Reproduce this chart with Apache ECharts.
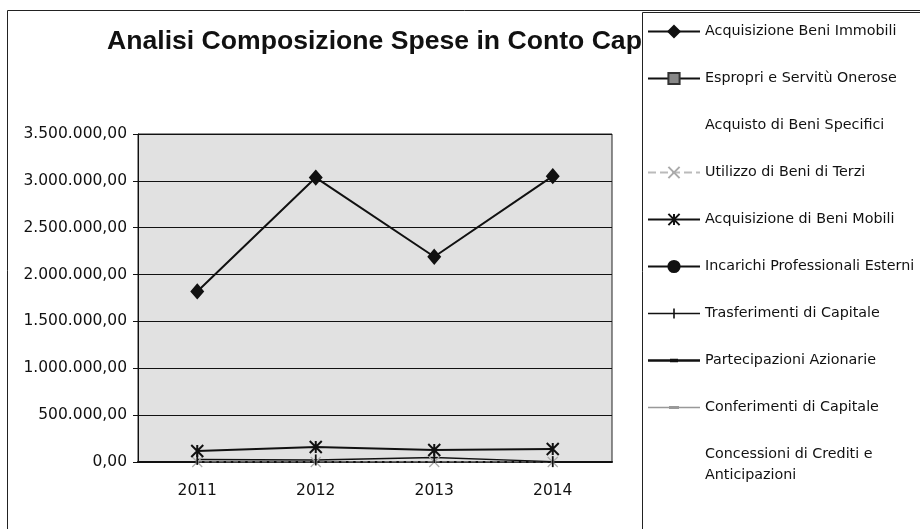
<!DOCTYPE html>
<html>
<head>
<meta charset="utf-8">
<script src="https://cdn.jsdelivr.net/npm/echarts@6/dist/echarts.min.js"></script>
<style>
  html, body { margin: 0; padding: 0; background: #fff; }
  #chart { width: 920px; height: 529px; }
</style>
</head>
<body>
<div id="chart"></div>
<script>
const years = ['2011', '2012', '2013', '2014']
const yTicks = [0, 500000, 1000000, 1500000, 2000000, 2500000, 3000000, 3500000]

const beniImmobili = [1820000, 3035000, 2190000, 3050000]
const espropri = [null, null, null, null]
const beniSpecifici = [null, null, null, null]
const beniTerzi = [0, 0, 0, 0]
const beniMobili = [117000, 160000, 128000, 139000]
const incarichi = [null, null, null, null]
const trasferimenti = [28000, 22000, 48000, 4000]
const partecipazioni = [null, null, null, null]
const conferimenti = [null, null, null, null]
const concessioni = [null, null, null, null]

const chart = echarts.init(document.getElementById('chart'))

function fmtIt(v) {
  const s = Math.round(v).toString().replace(/\B(?=(\d{3})+(?!\d))/g, '.')
  return s + ',00'
}

const ink = '#111'
const asterisk = 'path://M0,0L10,10M10,0L0,10M5,0L5,10'
const cross = 'path://M0,0L10,10M10,0L0,10'
const vbar = 'path://M0,0L1.6,0L1.6,10L0,10Z'
const hbar = 'path://M0,0L10,0L10,3.5L0,3.5Z'

// legend icons drawn in a 52x14 box (line + marker), corners pinned by tiny dots
const pin = 'M0,0L0.01,0L0,0.01ZM52,14L51.99,14L52,13.99Z'
const iconTrasf = 'path://' + pin + 'M0,6.3L52,6.3L52,7.7L0,7.7ZM25.2,2L26.8,2L26.8,12L25.2,12Z'
const iconPartec = 'path://' + pin + 'M0,5.7L52,5.7L52,8.3L0,8.3ZM22,5.2L30,5.2L30,8.8L22,8.8Z'
const iconConf = 'path://' + pin + 'M0,6.3L52,6.3L52,7.7L0,7.7ZM21,5.5L31,5.5L31,8.5L21,8.5Z'

function line(name, data, color, width, symbol, size, extra) {
  return Object.assign({
    name,
    type: 'line',
    data,
    symbol,
    symbolSize: size,
    symbolKeepAspect: true,
    showSymbol: true,
    connectNulls: false,
    lineStyle: { color, width },
    itemStyle: { color, borderColor: color, borderWidth: 1.5 },
    emphasis: { disabled: true },
    animation: false,
  }, extra || {})
}

const hidden = { lineStyle: { color: 'transparent', width: 0 }, itemStyle: { color: 'transparent' } }

const series = [
  line('Acquisizione Beni Immobili', beniImmobili, ink, 2, 'diamond', [12, 14],
    { symbolKeepAspect: false }),
  line('Espropri e Servitù Onerose', espropri, ink, 1.5, 'rect', 10,
    { itemStyle: { color: '#888', borderColor: '#333', borderWidth: 1 } }),
  line('Acquisto di Beni Specifici', beniSpecifici, 'transparent', 0, 'none', 0, hidden),
  line('Utilizzo di Beni di Terzi', beniTerzi, '#bbb', 1.2, cross, 10,
    { lineStyle: { color: '#bbb', width: 1.2, type: 'dashed' }, itemStyle: { color: 'none', borderColor: '#aaa', borderWidth: 1.2 } }),
  line('Acquisizione di Beni Mobili', beniMobili, ink, 2, asterisk, 12,
    { itemStyle: { color: ink, borderColor: ink, borderWidth: 2 } }),
  line('Incarichi Professionali Esterni', incarichi, ink, 2, 'circle', 10),
  line('Trasferimenti di Capitale', trasferimenti, ink, 1.5, vbar, 11,
    { itemStyle: { color: ink, borderWidth: 0 } }),
  line('Partecipazioni Azionarie', partecipazioni, ink, 2.6, hbar, 10,
    { itemStyle: { color: ink, borderWidth: 0 } }),
  line('Conferimenti di Capitale', conferimenti, '#999', 1.5, hbar, 10,
    { itemStyle: { color: '#999', borderWidth: 0 } }),
  line('Concessioni di Crediti e Anticipazioni', concessioni, 'transparent', 0, 'none', 0, hidden),
]

const customIcons = {
  'Trasferimenti di Capitale': iconTrasf,
  'Partecipazioni Azionarie': iconPartec,
  'Conferimenti di Capitale': iconConf,
}

const option = {
  animation: false,
  backgroundColor: '#fff',
  title: {
    text: 'Analisi Composizione Spese in Conto Capitale',
    left: 107,
    top: 28,
    padding: 0,
    z: 1,
    textStyle: {
      fontFamily: 'Liberation Sans',
      fontWeight: 'bold',
      fontSize: 26.6,
      color: ink,
    },
  },
  graphic: [
    {
      type: 'rect',
      z: 0,
      silent: true,
      shape: { x: 7.5, y: 10.5, width: 960, height: 560 },
      style: { fill: 'none', stroke: '#222', lineWidth: 1 },
    },
    {
      type: 'rect',
      z: 20,
      silent: true,
      shape: { x: 642.5, y: 12.5, width: 320, height: 560 },
      style: { fill: '#fff', stroke: '#222', lineWidth: 1 },
    },
  ],
  legend: {
    orient: 'vertical',
    left: 647,
    top: 21,
    padding: 0,
    z: 30,
    itemWidth: 52,
    itemHeight: 14,
    itemGap: 26,
    selectedMode: false,
    data: series.map((s) => customIcons[s.name]
      ? { name: s.name, icon: customIcons[s.name] }
      : { name: s.name }),
    textStyle: {
      fontFamily: 'DejaVu Sans',
      fontSize: 14.3,
      color: ink,
      lineHeight: 21,
    },
    formatter: (name) => name === 'Concessioni di Crediti e Anticipazioni'
      ? 'Concessioni di Crediti e\nAnticipazioni' : name,
  },
  grid: {
    left: 138,
    top: 134,
    right: 308,
    bottom: 67,
    show: true,
    backgroundColor: '#e1e1e1',
    borderColor: '#222',
    borderWidth: 1,
  },
  xAxis: {
    type: 'category',
    data: years,
    boundaryGap: true,
    axisLine: { lineStyle: { color: ink, width: 2 } },
    axisTick: { length: 4, lineStyle: { color: ink } },
    axisLabel: {
      margin: 21,
      fontFamily: 'DejaVu Sans',
      fontSize: 15.5,
      color: ink,
    },
  },
  yAxis: {
    type: 'value',
    min: yTicks[0],
    max: yTicks[yTicks.length - 1],
    interval: 500000,
    axisLine: { show: true, lineStyle: { color: ink, width: 1 } },
    axisTick: { show: true, length: 5, lineStyle: { color: ink } },
    splitLine: { lineStyle: { color: ink, width: 1 } },
    axisLabel: {
      margin: 11,
      fontFamily: 'DejaVu Sans',
      fontSize: 15.5,
      color: ink,
      formatter: fmtIt,
    },
  },
  series,
}

chart.setOption(option)
window.addEventListener('resize', () => chart.resize())
</script>
</body>
</html>
